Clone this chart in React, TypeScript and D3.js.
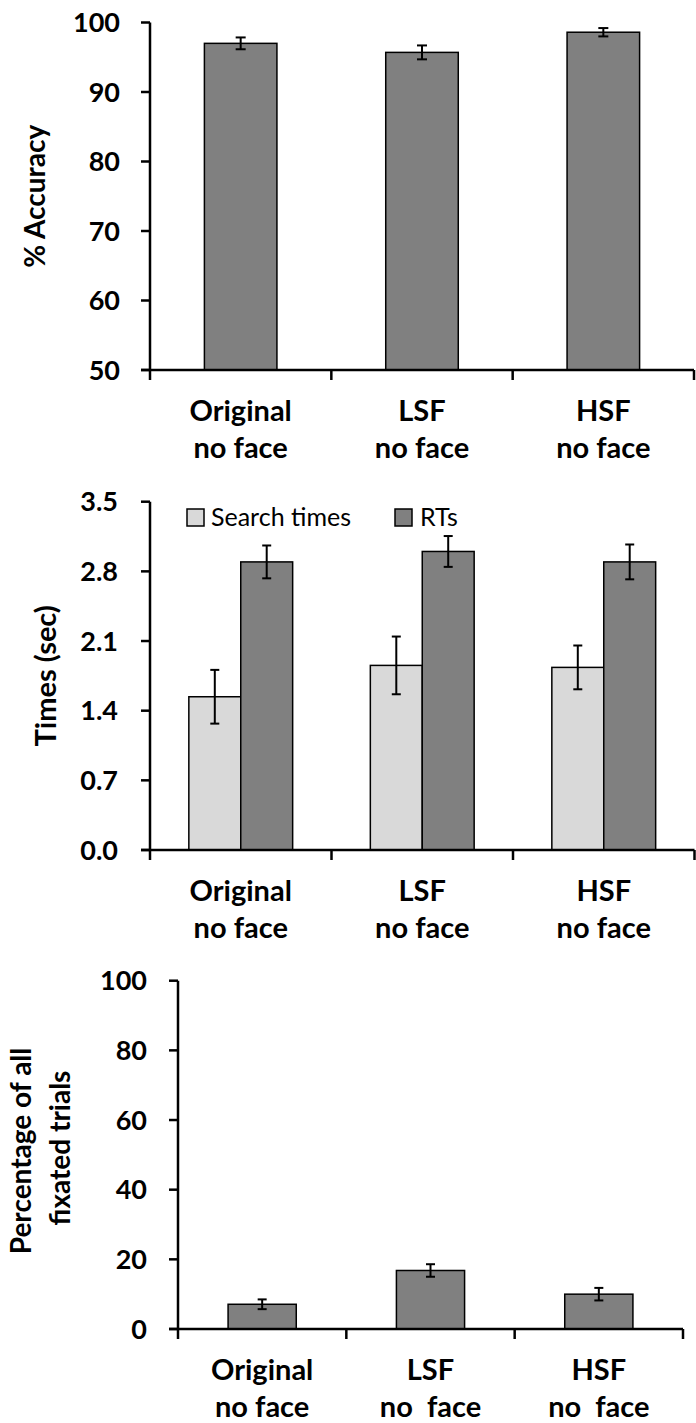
import React from "react";
import * as d3 from "d3";

// ---------- data ----------
const accCategories = [["Original", "no face"], ["LSF", "no face"], ["HSF", "no face"]];
const accValues = [97.0, 95.7, 98.6];
const accErrors = [0.85, 1.0, 0.6];
const accTicks = [50, 60, 70, 80, 90, 100];

const timeCategories = [["Original", "no face"], ["LSF", "no face"], ["HSF", "no face"]];
const timeSeries = ["Search times", "RTs"];
const searchTimes = [1.54, 1.855, 1.835];
const searchErrors = [0.27, 0.29, 0.22];
const rtTimes = [2.895, 3.0, 2.895];
const rtErrors = [0.165, 0.155, 0.175];
const timeTicks = [0, 0.7, 1.4, 2.1, 2.8, 3.5];

const fixCategories = [["Original", "no face"], ["LSF", "no  face"], ["HSF", "no  face"]];
const fixValues = [7.1, 16.8, 10.0];
const fixErrors = [1.4, 1.8, 1.8];
const fixTicks = [0, 20, 40, 60, 80, 100];

const FONT = "Lato, 'Open Sans', sans-serif";
const DARK = "#808080";
const LIGHT = "#d9d9d9";

function ErrorBar({ x, y1, y2, cap = 9 }: { x: number; y1: number; y2: number; cap?: number }) {
  return (
    <g stroke="#000" strokeWidth={2}>
      <line x1={x} x2={x} y1={y1} y2={y2} />
      <line x1={x - cap / 2} x2={x + cap / 2} y1={y1} y2={y1} />
      <line x1={x - cap / 2} x2={x + cap / 2} y1={y2} y2={y2} />
    </g>
  );
}

function Axes({
  x0, x1, y0, y1, ticks, y, fmt, labelRight, cats, band,
}: {
  x0: number; x1: number; y0: number; y1: number; ticks: number[];
  y: d3.ScaleLinear<number, number>; fmt: (v: number) => string; labelRight: number;
  cats: string[][]; band: d3.ScaleBand<string>;
}) {
  const boundaries = band.domain().map((d) => band(d) as number).concat([x1]);
  return (
    <g>
      {/* y axis */}
      <line x1={x0} x2={x0} y1={y1} y2={y0} stroke="#000" strokeWidth={2.5} />
      {ticks.map((t) => (
        <g key={t}>
          <line x1={x0 - 9} x2={x0} y1={y(t)} y2={y(t)} stroke="#000" strokeWidth={2.5} />
          <text x={labelRight} y={y(t)} dy="0.36em" textAnchor="end" fontFamily={FONT}
            fontWeight={700} fontSize={27} fill="#000">{fmt(t)}</text>
        </g>
      ))}
      {/* x axis */}
      <line x1={x0 - 9} x2={x1} y1={y0} y2={y0} stroke="#000" strokeWidth={2.5} />
      {boundaries.map((b, i) => (
        <line key={i} x1={b} x2={b} y1={y0} y2={y0 + 10} stroke="#000" strokeWidth={2.5} />
      ))}
      {cats.map((c, i) => {
        const cx = (band(String(i)) as number) + band.bandwidth() / 2;
        return (
          <g key={i}>
            <text x={cx} y={y0 + 51} textAnchor="middle" fontFamily={FONT} fontWeight={700}
              fontSize={29} fill="#000" style={{ whiteSpace: "pre" }}>{c[0]}</text>
            <text x={cx} y={y0 + 88} textAnchor="middle" fontFamily={FONT} fontWeight={700}
              fontSize={29} fill="#000" style={{ whiteSpace: "pre" }}>{c[1]}</text>
          </g>
        );
      })}
    </g>
  );
}

function AccuracyChart() {
  const x0 = 150, x1 = 694, yTop = 22.5, yBot = 370;
  const band = d3.scaleBand<string>().domain(accCategories.map((_, i) => String(i))).range([x0, x1]).padding(0);
  const y = d3.scaleLinear().domain([50, 100]).range([yBot, yTop]);
  const bw = band.bandwidth() * 0.4;
  return (
    <g>
      {accValues.map((v, i) => {
        const cx = (band(String(i)) as number) + band.bandwidth() / 2;
        return (
          <g key={i}>
            <rect x={cx - bw / 2} y={y(v)} width={bw} height={yBot - y(v)} fill={DARK} stroke="#000" strokeWidth={1.5} />
            <ErrorBar x={cx} y1={y(v + accErrors[i])} y2={y(v - accErrors[i])} cap={10} />
          </g>
        );
      })}
      <Axes x0={x0} x1={x1} y0={yBot} y1={yTop} ticks={accTicks} y={y} fmt={(v) => String(v)}
        labelRight={120} cats={accCategories} band={band} />
      <text transform={`translate(45,${(yTop + yBot) / 2}) rotate(-90)`} textAnchor="middle"
        fontFamily={FONT} fontWeight={700} fontSize={28} fill="#000">% Accuracy</text>
    </g>
  );
}

function TimesChart() {
  const x0 = 150, x1 = 694.5, yTop = 501.7, yBot = 850;
  const band = d3.scaleBand<string>().domain(timeCategories.map((_, i) => String(i))).range([x0, x1]).padding(0);
  const y = d3.scaleLinear().domain([0, 3.5]).range([yBot, yTop]);
  const bw = band.bandwidth() * 0.286;
  const series = [
    { vals: searchTimes, errs: searchErrors, fill: LIGHT },
    { vals: rtTimes, errs: rtErrors, fill: DARK },
  ];
  return (
    <g>
      {timeCategories.map((_, i) => {
        const cx = (band(String(i)) as number) + band.bandwidth() / 2;
        return (
          <g key={i}>
            {series.map((s, j) => {
              const bx = cx - bw + j * bw;
              const v = s.vals[i];
              return (
                <g key={j}>
                  <rect x={bx} y={y(v)} width={bw} height={yBot - y(v)} fill={s.fill} stroke="#000" strokeWidth={1.5} />
                  <ErrorBar x={bx + bw / 2} y1={y(v + s.errs[i])} y2={y(v - s.errs[i])} cap={9} />
                </g>
              );
            })}
          </g>
        );
      })}
      <Axes x0={x0} x1={x1} y0={yBot} y1={yTop} ticks={timeTicks} y={y} fmt={(v) => v.toFixed(1)}
        labelRight={118} cats={timeCategories} band={band} />
      <text transform={`translate(56,${(yTop + yBot) / 2}) rotate(-90)`} textAnchor="middle"
        fontFamily={FONT} fontWeight={700} fontSize={29} fill="#000">Times (sec)</text>
      {/* legend */}
      <g fontFamily={FONT} fontSize={25} fill="#000">
        <rect x={187} y={509} width={17} height={17} fill={LIGHT} stroke="#000" strokeWidth={1.5} />
        <text x={211} y={526}>{timeSeries[0]}</text>
        <rect x={395} y={509} width={17} height={17} fill={DARK} stroke="#000" strokeWidth={1.5} />
        <text x={420} y={526}>{timeSeries[1]}</text>
      </g>
    </g>
  );
}

function FixationChart() {
  const x0 = 178, x1 = 683, yTop = 980.7, yBot = 1329;
  const band = d3.scaleBand<string>().domain(fixCategories.map((_, i) => String(i))).range([x0, x1]).padding(0);
  const y = d3.scaleLinear().domain([0, 100]).range([yBot, yTop]);
  const bw = band.bandwidth() * 0.405;
  return (
    <g>
      {fixValues.map((v, i) => {
        const cx = (band(String(i)) as number) + band.bandwidth() / 2;
        return (
          <g key={i}>
            <rect x={cx - bw / 2} y={y(v)} width={bw} height={yBot - y(v)} fill={DARK} stroke="#000" strokeWidth={1.5} />
            <ErrorBar x={cx} y1={y(v + fixErrors[i])} y2={y(v - fixErrors[i])} cap={9} />
          </g>
        );
      })}
      <Axes x0={x0} x1={x1} y0={yBot} y1={yTop} ticks={fixTicks} y={y} fmt={(v) => String(v)}
        labelRight={147} cats={fixCategories} band={band} />
      <text transform={`translate(31,1151) rotate(-90)`} textAnchor="middle"
        fontFamily={FONT} fontWeight={700} fontSize={28} fill="#000">Percentage of all</text>
      <text transform={`translate(70,1148) rotate(-90)`} textAnchor="middle"
        fontFamily={FONT} fontWeight={700} fontSize={28} fill="#000">fixated trials</text>
    </g>
  );
}

export default function App() {
  return (
    <svg width={696} height={1423} viewBox="0 0 696 1423"
      style={{ position: "absolute", left: 0, top: 0, background: "#fff" }}>
      <rect x={0} y={0} width={696} height={1423} fill="#fff" />
      <AccuracyChart />
      <TimesChart />
      <FixationChart />
    </svg>
  );
}
